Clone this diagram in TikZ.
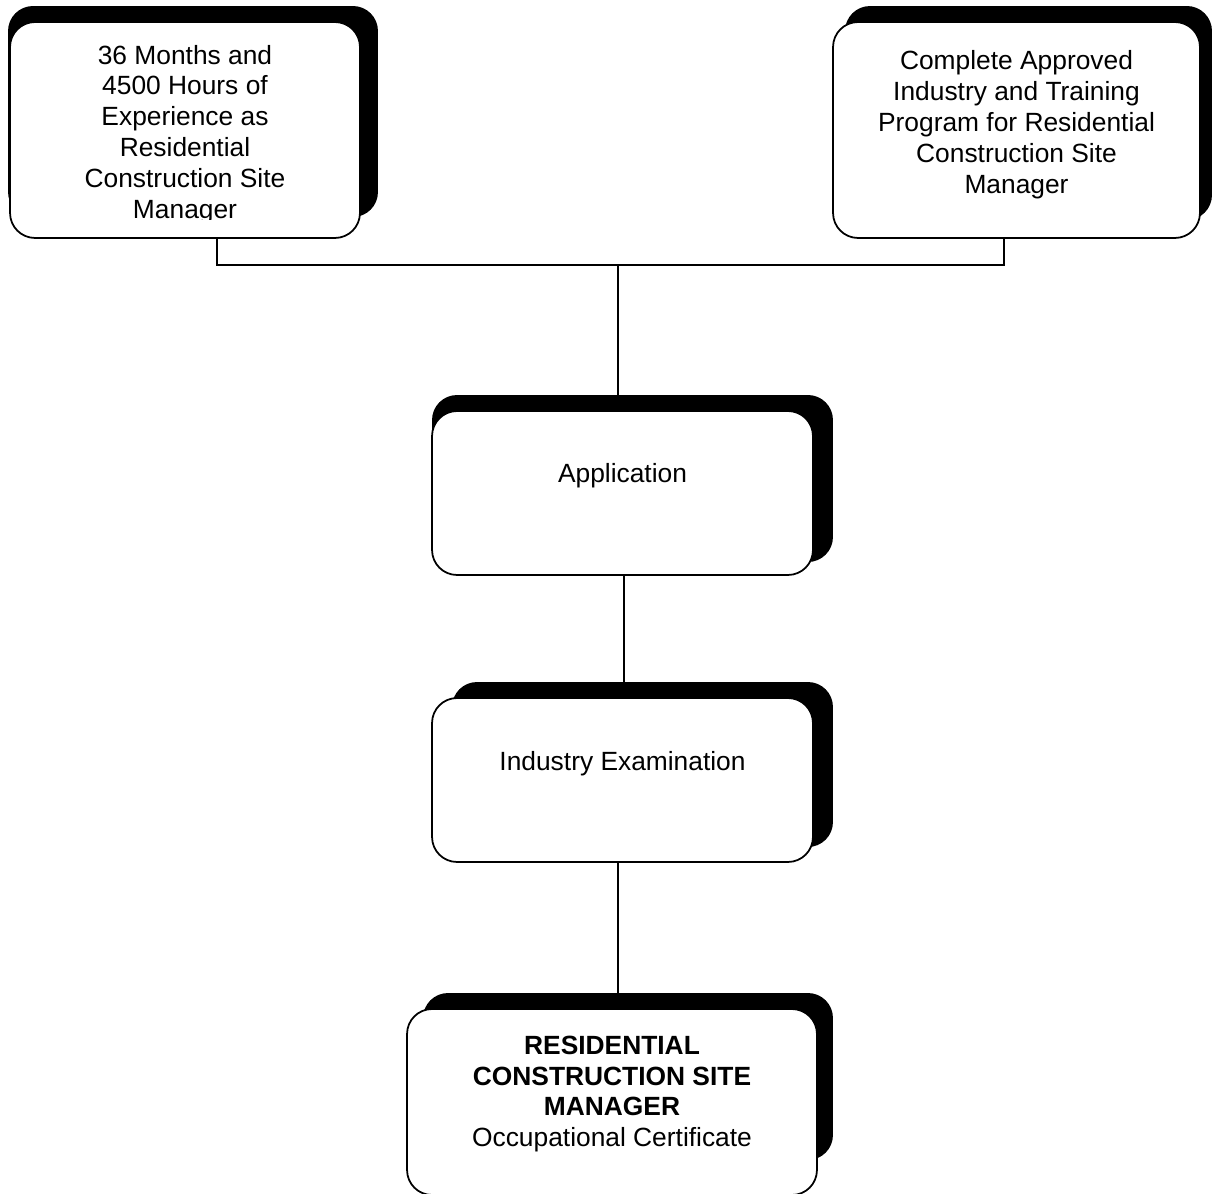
\documentclass[tikz,border=0pt]{standalone}
\usepackage{fontspec}
\setmainfont{Liberation Sans}
\usetikzlibrary{calc, backgrounds}

\tikzset{
  card/.style={draw, rectangle, rounded corners=0.5cm, fill=white, line width=1pt, inner sep=0pt, outer sep=0pt},
  cardtext/.style={align=center, font=\fontsize{15}{17.6}\selectfont},
  backshadow/.style={fill=black, rounded corners=0.5cm},
  link/.style={line width=0.6pt}
}

\begin{document}
\begin{tikzpicture}[x=0.02cm, y=-0.02cm]
\useasboundingbox (0,0) rectangle (1213,1193);

% Boxes
\node[card, minimum width=7cm, minimum height=4.32cm] (exp) at (185,130) {};
\node[card, minimum width=7.34cm, minimum height=4.32cm] (prog) at (1016.5,130) {};
\node[card, minimum width=7.62cm, minimum height=3.28cm] (app) at (622.5,493) {};
\node[card, minimum width=7.62cm, minimum height=3.28cm] (exam) at (622.5,780) {};
\node[card, minimum width=8.2cm, minimum height=3.72cm] (cert) at (612,1102) {};

% Texts
\begin{scope}
\clip (exp.north west) rectangle ($(exp.south east)+(0,-18)$);
\node[cardtext] (exptext) at ($(exp.center)+(0,4.5)$) {36 Months and\\4500 Hours of\\Experience as\\Residential\\Construction Site\\Manager};
\end{scope}
\node[cardtext] (progtext) at ($(prog.center)+(0,-5.5)$) {Complete Approved\\Industry and Training\\Program for Residential\\Construction Site\\Manager};
\node[cardtext] (apptext) at ($(app.center)+(0,-17)$) {Application};
\node[cardtext] (examtext) at ($(exam.center)+(0,-16)$) {Industry Examination};
\node[cardtext] (certtext) at ($(cert.center)+(0,-8)$) {{\bfseries RESIDENTIAL}\\{\bfseries CONSTRUCTION SITE}\\{\bfseries MANAGER}\\Occupational Certificate};

% Junctions
\coordinate (jl) at (217,265);
\coordinate (jr) at (1004,265);
\coordinate (jm) at (618,265);

\begin{scope}[on background layer]
% Connectors
\draw[link] (exp.south -| jl) |- (jr) -- (prog.south -| jr);
\draw[link] (jm) -- (app.north -| jm);
\draw[link] ($(app.south)+(1.5,0)$) -- ($(exam.north)+(1.5,0)$);
\draw[link] (exam.south -| jm) -- (cert.north -| jm);
% Shadows
\foreach \n/\l/\r/\b in {exp/-2/18/21, prog/12/12/18, app/0/20/13, exam/20/20/15, cert/16/16/35}
  \fill[backshadow] ($(\n.north west)+(\l,-16)$) rectangle ($(\n.south east)+(\r,-\b)$);
\end{scope}
\end{tikzpicture}
\end{document}
